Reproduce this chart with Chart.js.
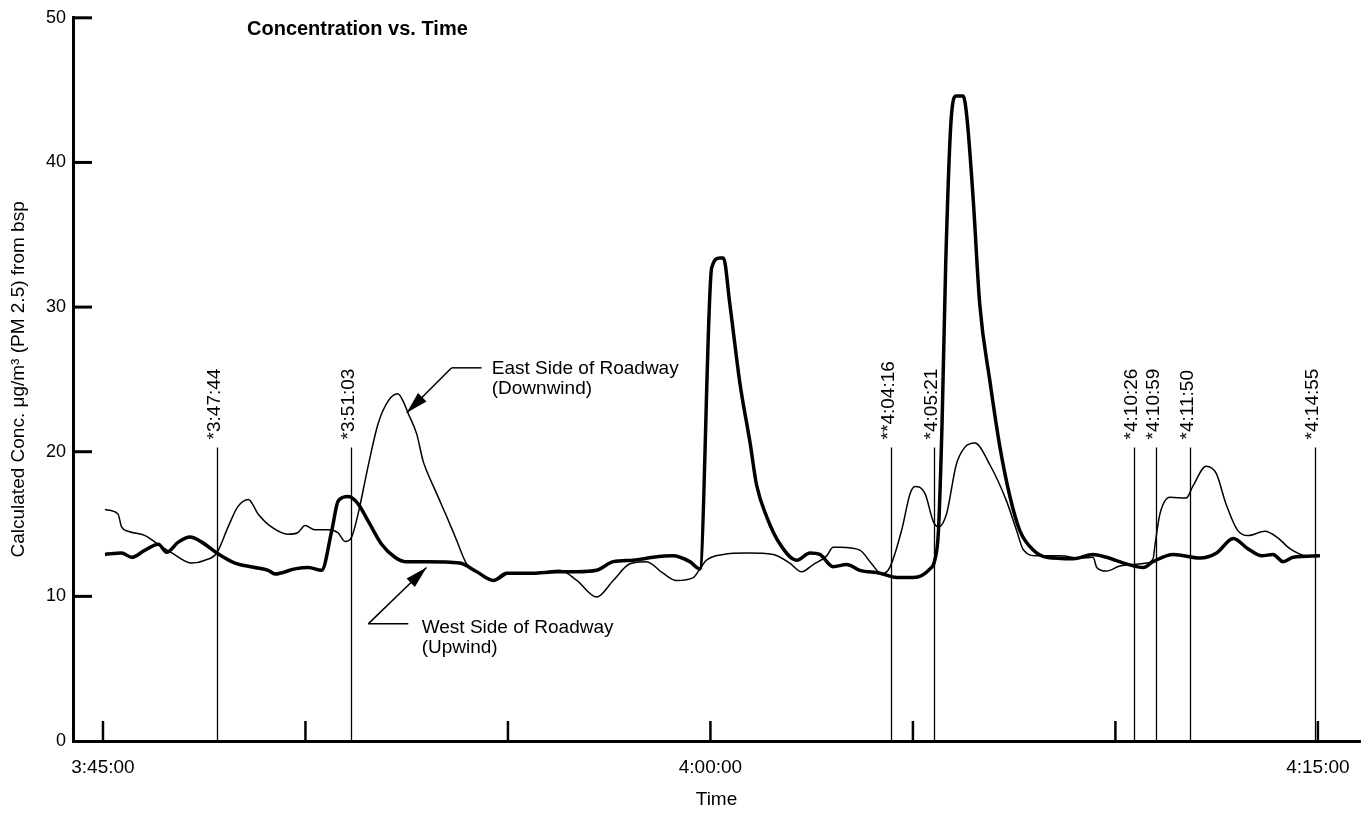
<!DOCTYPE html>
<html>
<head>
<meta charset="utf-8">
<script src="https://cdn.jsdelivr.net/npm/chart.js@4.4.1/dist/chart.umd.min.js"></script>
<style>
  html, body { margin: 0; padding: 0; background: #fff; }
</style>
</head>
<body>
<canvas id="myChart" width="1368" height="821"></canvas>
<script>
// time axis is in minutes after 3:45:00
var startSeconds = 3 * 3600 + 45 * 60;
var labelMinutes = [0, 15, 30];
var markMinutes = [0, 5, 10, 15, 20, 25, 30];
var yTicks = [0, 10, 20, 30, 40, 50];

// West Side of Roadway (Upwind) - thick line
var westMinutes = [0.05, 0.46, 0.71, 1.04, 1.37, 1.57, 1.86, 2.15, 2.44, 2.81, 3.26, 3.75, 4.08, 4.25, 4.74, 5.07, 5.4, 5.65, 5.81, 6.06,
    6.3, 6.55, 6.88, 7.21, 7.46, 7.99, 8.81, 9.23, 9.64, 9.97, 10.62, 11.2, 11.7, 12.19, 12.6, 13.09, 13.58, 14.07, 14.49, 14.74,
    15.03, 15.23, 15.32, 15.48, 15.73, 15.98, 16.14, 16.39, 16.72, 17.13, 17.46, 17.7, 18.03, 18.36, 18.69, 19.19, 19.6, 20.01, 20.42, 20.54,
    20.63, 20.72, 20.81, 20.95, 21.07, 21.24, 21.33, 21.49, 21.65, 21.9, 22.15, 22.4, 22.64, 22.97, 23.3, 23.96, 24.45, 24.78, 25.27, 25.69,
    25.93, 26.43, 27.09, 27.5, 27.91, 28.27, 28.62, 28.89, 29.14, 29.39, 30.05];
var westConc = [12.9, 13.0, 12.7, 13.2, 13.6, 13.05, 13.75, 14.1, 13.75, 13.0, 12.3, 12.0, 11.8, 11.55, 11.9, 12.0, 11.8, 14.55, 16.6, 16.9,
    16.4, 15.2, 13.6, 12.7, 12.4, 12.4, 12.3, 11.7, 11.1, 11.6, 11.6, 11.7, 11.7, 11.8, 12.4, 12.5, 12.7, 12.8, 12.4, 11.9,
    32.7, 33.4, 33.4, 30.2, 24.7, 20.6, 17.7, 15.5, 13.6, 12.5, 13.0, 12.9, 12.05, 12.2, 11.8, 11.6, 11.3, 11.3, 11.9, 12.5,
    14.5, 22, 33, 43.2, 44.6, 44.6, 43.2, 37.4, 30.2, 24.9, 20.3, 16.85, 14.55, 13.2, 12.7, 12.6, 12.9, 12.7, 12.25, 12.0,
    12.4, 12.9, 12.65, 13.0, 14.0, 13.3, 12.8, 12.9, 12.4, 12.7, 12.8];

// East Side of Roadway (Downwind) - thin line
var eastMinutes = [0.05, 0.37, 0.46, 0.62, 1.04, 1.36, 1.7, 2.19, 2.52, 2.81, 3.09, 3.33, 3.59, 3.83, 4.16, 4.57, 4.81, 4.99, 5.23, 5.56,
    5.8, 5.98, 6.14, 6.3, 6.54, 6.79, 7.04, 7.28, 7.41, 7.53, 7.75, 7.9, 7.99, 8.24, 8.49, 8.73, 8.98, 9.31, 9.68, 10.05,
    10.62, 11.28, 11.7, 12.19, 12.6, 13.01, 13.42, 13.83, 14.16, 14.58, 14.74, 14.9, 15.32, 15.89, 16.55, 16.96, 17.25, 17.54, 17.87, 18.03,
    18.2, 18.69, 18.98, 19.23, 19.43, 19.72, 19.93, 20.05, 20.3, 20.5, 20.63, 20.83, 21.07, 21.28, 21.53, 21.9, 22.31, 22.56, 22.73, 23.06,
    23.63, 24.12, 24.45, 24.54, 24.78, 25.11, 25.44, 25.77, 25.93, 25.98, 26.1, 26.35, 26.75, 26.91, 27.24, 27.49, 27.73, 28.01, 28.27, 28.69,
    29.01, 29.31, 29.72, 30.05];
var eastConc = [16.0, 15.7, 14.8, 14.5, 14.2, 13.6, 13.0, 12.3, 12.5, 13.0, 14.8, 16.2, 16.7, 15.7, 14.8, 14.3, 14.4, 14.9, 14.6, 14.6,
    14.4, 13.8, 14.1, 15.7, 18.9, 21.9, 23.5, 24.0, 23.5, 22.7, 21.2, 19.4, 18.7, 17.1, 15.5, 13.9, 12.25, 11.6, 11.1, 11.6,
    11.6, 11.8, 11.1, 9.95, 11.1, 12.25, 12.4, 11.6, 11.1, 11.3, 11.9, 12.5, 12.9, 13.0, 12.9, 12.3, 11.7, 12.2, 12.8, 13.4,
    13.4, 13.2, 12.25, 11.55, 12.0, 14.55, 17.1, 17.6, 17.1, 15.2, 14.8, 15.7, 19.1, 20.3, 20.6, 19.1, 16.6, 14.55, 13.2, 12.8,
    12.8, 12.65, 12.7, 12.0, 11.75, 12.1, 12.2, 12.3, 12.6, 13.6, 15.7, 16.85, 16.8, 17.6, 19.0, 18.5, 16.4, 14.6, 14.2, 14.5,
    14.05, 13.3, 12.8, 12.8];

// marked events (vertical lines)
var eventMinutes = [2.81, 6.12, 19.46, 20.52, 25.46, 26.0, 26.84, 29.93];
var eventLabels = ['*3:47:44', '*3:51:03', '**4:04:16', '*4:05:21', '*4:10:26', '*4:10:59', '*4:11:50', '*4:14:55'];

var FONT = 'Liberation Sans, Arial, Helvetica, sans-serif';
var EVENT_TOP = 20.3;

function toPoints(xs, ys) {
    var pts = [];
    for (var i = 0; i < xs.length; i++) {
        pts.push({x: xs[i], y: ys[i]});
    }
    return pts;
}

function clockLabel(m) {
    var s = Math.round(startSeconds + m * 60);
    var h = Math.floor(s / 3600);
    var mm = Math.floor((s % 3600) / 60);
    var ss = s % 60;
    return h + ':' + (mm < 10 ? '0' : '') + mm + ':' + (ss < 10 ? '0' : '') + ss;
}

function arrowLine(ctx, x1, y1, x2, y2) {
    // leader line ending in a filled arrowhead at (x2, y2)
    ctx.beginPath();
    ctx.moveTo(x1, y1);
    ctx.lineTo(x2, y2);
    ctx.stroke();
    var a = Math.atan2(y2 - y1, x2 - x1);
    var len = 22, w = 6;
    ctx.beginPath();
    ctx.moveTo(x2, y2);
    ctx.lineTo(x2 - len * Math.cos(a) + w * Math.sin(a), y2 - len * Math.sin(a) - w * Math.cos(a));
    ctx.lineTo(x2 - len * Math.cos(a) - w * Math.sin(a), y2 - len * Math.sin(a) + w * Math.cos(a));
    ctx.closePath();
    ctx.fill();
}

var decorations = {
    id: 'decorations',
    afterDraw: function(chart) {
        var ctx = chart.ctx;
        var xs = chart.scales.x, ys = chart.scales.y;
        var area = chart.chartArea;
        ctx.save();
        ctx.strokeStyle = '#000';
        ctx.fillStyle = '#000';

        // inward tick marks on y axis
        ctx.lineWidth = 3;
        yTicks.forEach(function(v) {
            if (v === 0) return;
            var py = ys.getPixelForValue(v);
            ctx.beginPath();
            ctx.moveTo(area.left, py);
            ctx.lineTo(area.left + 19, py);
            ctx.stroke();
        });

        // upward tick marks on x axis
        ctx.lineWidth = 2.5;
        markMinutes.forEach(function(m) {
            var px = xs.getPixelForValue(m);
            ctx.beginPath();
            ctx.moveTo(px, area.bottom);
            ctx.lineTo(px, area.bottom - 20);
            ctx.stroke();
        });

        // event lines and rotated labels
        var topY = ys.getPixelForValue(EVENT_TOP);
        ctx.lineWidth = 1.3;
        ctx.font = '19px ' + FONT;
        ctx.textBaseline = 'middle';
        ctx.textAlign = 'left';
        eventMinutes.forEach(function(m, i) {
            var px = Math.round(xs.getPixelForValue(m)) + 0.5;
            ctx.beginPath();
            ctx.moveTo(px, area.bottom);
            ctx.lineTo(px, topY);
            ctx.stroke();
            ctx.save();
            ctx.translate(px - 3, topY - 8);
            ctx.rotate(-Math.PI / 2);
            ctx.fillText(eventLabels[i], 0, 0);
            ctx.restore();
        });

        // chart title
        ctx.font = 'bold 20px ' + FONT;
        ctx.textBaseline = 'alphabetic';
        ctx.fillText('Concentration vs. Time', 247, 35);

        // annotations
        ctx.font = '19px ' + FONT;
        ctx.lineWidth = 1.5;
        ctx.fillText('East Side of Roadway', xs.getPixelForValue(9.6), ys.getPixelForValue(25.4));
        ctx.fillText('(Downwind)', xs.getPixelForValue(9.6), ys.getPixelForValue(24.0));
        ctx.beginPath();
        ctx.moveTo(xs.getPixelForValue(9.35), ys.getPixelForValue(25.8));
        ctx.lineTo(xs.getPixelForValue(8.61), ys.getPixelForValue(25.8));
        ctx.stroke();
        arrowLine(ctx, xs.getPixelForValue(8.61), ys.getPixelForValue(25.8),
            xs.getPixelForValue(7.5), ys.getPixelForValue(22.7));

        ctx.fillText('West Side of Roadway', xs.getPixelForValue(7.87), ys.getPixelForValue(7.5));
        ctx.fillText('(Upwind)', xs.getPixelForValue(7.87), ys.getPixelForValue(6.1));
        ctx.beginPath();
        ctx.moveTo(xs.getPixelForValue(7.54), ys.getPixelForValue(8.1));
        ctx.lineTo(xs.getPixelForValue(6.55), ys.getPixelForValue(8.1));
        ctx.stroke();
        arrowLine(ctx, xs.getPixelForValue(6.55), ys.getPixelForValue(8.1),
            xs.getPixelForValue(7.99), ys.getPixelForValue(12.0));

        ctx.restore();
    }
};

document.addEventListener('DOMContentLoaded', drawChart);

function drawChart() {
    var ctx = document.getElementById('myChart').getContext('2d');
    var chart = new Chart(ctx, {
        type: 'line',
        data: {
            datasets: [{
                label: 'West Side of Roadway (Upwind)',
                borderColor: '#000',
                borderWidth: 3.5,
                fill: false,
                pointRadius: 0,
                cubicInterpolationMode: 'monotone',
                data: toPoints(westMinutes, westConc)
            },
            {
                label: 'East Side of Roadway (Downwind)',
                borderColor: '#000',
                borderWidth: 1.5,
                fill: false,
                pointRadius: 0,
                cubicInterpolationMode: 'monotone',
                data: toPoints(eastMinutes, eastConc)
            }]
        },
        options: {
            responsive: false,
            animation: false,
            layout: {padding: {top: 16, right: 8, left: 0, bottom: 0}},
            plugins: {legend: {display: false}, tooltip: {enabled: false}},
            scales: {
                x: {
                    type: 'linear',
                    min: -0.74,
                    max: 31.04,
                    grid: {display: false, drawTicks: false},
                    border: {display: true, color: '#000', width: 3},
                    afterBuildTicks: function(scale) {
                        scale.ticks = labelMinutes.map(function(m) { return {value: m}; });
                    },
                    afterFit: function(scale) { scale.height = 80; },
                    ticks: {
                        autoSkip: false,
                        maxRotation: 0,
                        padding: 15,
                        color: '#000',
                        font: {family: FONT, size: 19},
                        callback: function(v) { return clockLabel(v); }
                    },
                    title: {
                        display: true,
                        text: 'Time',
                        color: '#000',
                        font: {family: FONT, size: 19},
                        padding: {top: 0, bottom: 10}
                    }
                },
                y: {
                    min: 0,
                    max: 50,
                    grid: {display: false, drawTicks: false},
                    border: {display: true, color: '#000', width: 3},
                    afterBuildTicks: function(scale) {
                        scale.ticks = yTicks.map(function(v) { return {value: v}; });
                    },
                    afterFit: function(scale) { scale.width = 73; },
                    ticks: {
                        padding: 7,
                        color: '#000',
                        font: {family: FONT, size: 18}
                    },
                    title: {
                        display: true,
                        text: 'Calculated Conc. \u03bcg/m\u00b3 (PM 2.5) from bsp',
                        color: '#000',
                        font: {family: FONT, size: 19},
                        padding: {top: 7, bottom: 0}
                    }
                }
            }
        },
        plugins: [decorations]
    });
}
</script>
</body>
</html>
